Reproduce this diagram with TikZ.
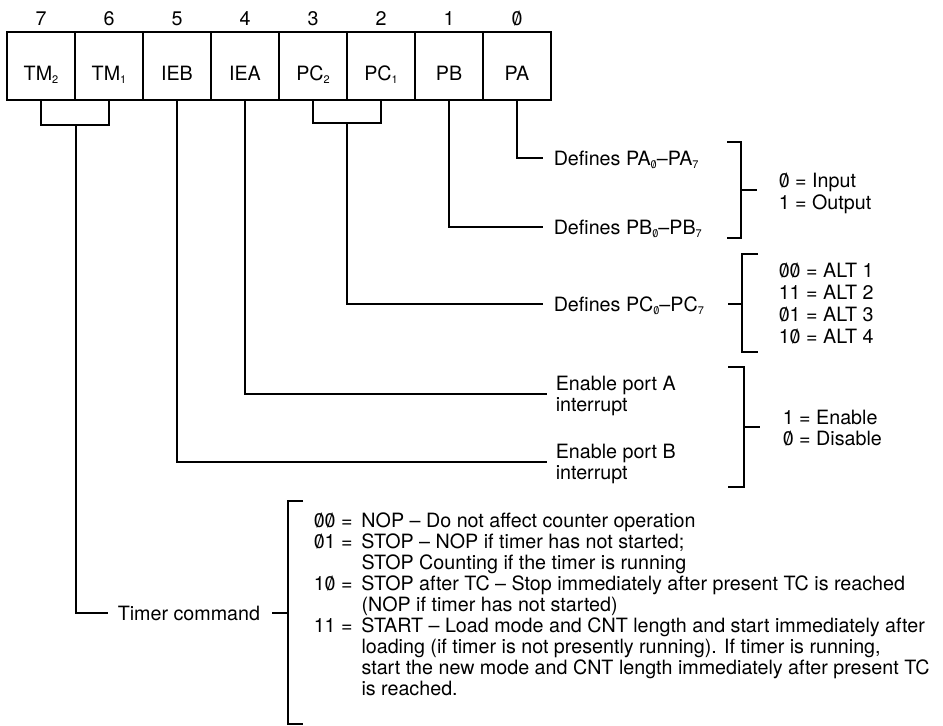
\documentclass[tikz,border=0pt]{standalone}
\usepackage{fontspec}
\setmainfont{TeX Gyre Heros}
\newcommand\zr{\ooalign{0\cr\hfil/\hfil\cr}}
\newcommand\sbs[1]{\raisebox{-3.5pt}{\fontsize{11}{11}\selectfont #1}}
\begin{document}
\begin{tikzpicture}[x=1pt,y=-1pt,line width=1.5pt,
  every node/.style={font=\fontsize{19.7}{22}\selectfont},
  cell/.style={draw,minimum width=68pt,minimum height=68pt,inner sep=0pt,text height=28.2pt,text depth=0pt},
  lab/.style={inner sep=0pt,text height=14.2pt,text depth=0pt,anchor=west},
  bitnum/.style={inner sep=0pt,text height=14.2pt,text depth=0pt,anchor=center},
  blk/.style={inner sep=0pt,anchor=north west,align=left}]
\useasboundingbox (0,0) rectangle (943,726);
% register cells
\node[cell] (c7) at (41,66) {TM\sbs{2}};
\node[cell] (c6) at (109,66) {TM\sbs{1}};
\node[cell] (c5) at (177,66) {IEB};
\node[cell] (c4) at (245,66) {IEA};
\node[cell] (c3) at (313,66) {PC\sbs{2}};
\node[cell] (c2) at (381,66) {PC\sbs{1}};
\node[cell] (c1) at (449,66) {PB};
\node[cell] (c0) at (517,66) {PA};
% bit numbers
\node[bitnum] (b7) at (41,18) {7};
\node[bitnum] (b6) at (109,18) {6};
\node[bitnum] (b5) at (177,18) {5};
\node[bitnum] (b4) at (245,18) {4};
\node[bitnum] (b3) at (313,18) {3};
\node[bitnum] (b2) at (381,18) {2};
\node[bitnum] (b1) at (449,18) {1};
\node[bitnum] (b0) at (517,18) {\zr};
% junctions and line ends
\coordinate (tmj) at (76,125);
\coordinate (pcj) at (347,123);
\coordinate (paend) at (543,158);
\coordinate (pbend) at (543,227);
\coordinate (pcend) at (543,304);
\coordinate (iaend) at (547,394);
\coordinate (ibend) at (547,462);
\coordinate (tmend) at (108,613);
% text labels
\node[lab] (tpa) at (553,158) {Defines PA\sbs{\zr}--PA\sbs{7}};
\node[lab] (tpb) at (553,227) {Defines PB\sbs{\zr}--PB\sbs{7}};
\node[lab] (tpc) at (553,304) {Defines PC\sbs{\zr}--PC\sbs{7}};
\node[blk,font=\fontsize{19.7}{21}\selectfont] (tia) at (555,375.7) {Enable port A\\interrupt};
\node[blk,font=\fontsize{19.7}{21}\selectfont] (tib) at (555,443.7) {Enable port B\\interrupt};
\node[blk] (tio) at (778,172.7) {\zr\ = Input\\1 = Output};
\node[blk] (talt) at (778,262.7) {\zr\zr\ = ALT 1\\11 = ALT 2\\\zr1 = ALT 3\\1\zr\ = ALT 4};
\node[blk,font=\fontsize{19.7}{21}\selectfont] (ten) at (782,409.7) {1 = Enable\\\zr\ = Disable};
\node[lab] (ttc) at (117,613) {Timer command};
\node[inner sep=0pt,anchor=north west,font=\fontsize{19.7}{21}\selectfont] (tt) at (313,512.4) {%
\begin{tabular}{@{}r@{\hspace{0.45em}}l@{}}
\zr\zr\ = & NOP -- Do not affect counter operation\\
\zr1 = & STOP -- NOP if timer has not started;\\
 & STOP Counting if the timer is running\\
1\zr\ = & STOP after TC -- Stop immediately after present TC is reached\\
 & (NOP if timer has not started)\\
11 = & START -- Load mode and CNT length and start immediately after\\
 & loading (if timer is not presently running). If timer is running,\\
 & start the new mode and CNT length immediately after present TC\\
 & is reached.
\end{tabular}};
% connectors
\draw (c7.south) |- (tmj) -| (c6.south);
\draw (tmj) |- (tmend);
\draw (c3.south) |- (pcj) -| (c2.south);
\draw (pcj) |- (pcend);
\draw (c0.south) |- (paend);
\draw (c1.south) |- (pbend);
\draw (c4.south) |- (iaend);
\draw (c5.south) |- (ibend);
% brackets
\draw (727,142) -- (741,142) -- (741,238) -- (727,238);
\draw (741,190) -- (757,190);
\draw (758,254) -- (742,254) -- (742,352) -- (758,352);
\draw (728,304) -- (742,304);
\draw (728,367) -- (744,367) -- (744,487) -- (728,487);
\draw (744,427) -- (760,427);
\draw (303,501) -- (288,501) -- (288,724) -- (303,724);
\draw (272,613) -- (288,613);
\end{tikzpicture}
\end{document}
